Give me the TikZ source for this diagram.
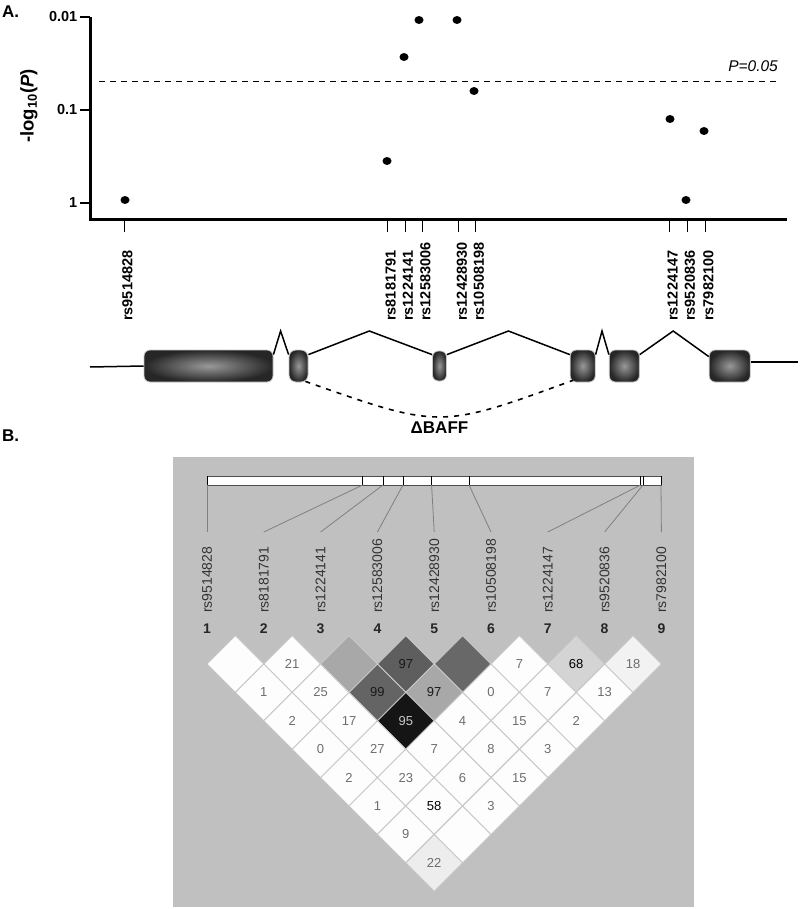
\documentclass[tikz,border=0pt]{standalone}
\usepackage{fontspec}
\setmainfont{Liberation Sans}
\usetikzlibrary{shapes.geometric}
\definecolor{ldbg}{HTML}{C0C0C0}
\definecolor{cellline}{HTML}{C8C8C8}
\definecolor{numgray}{HTML}{6E6E6E}
\definecolor{cwhite}{HTML}{FDFDFD}
\definecolor{cmid}{HTML}{A8A8A8}
\definecolor{cdark}{HTML}{5E5E5E}
\definecolor{cdarkb}{HTML}{686868}
\definecolor{cdarkc}{HTML}{646464}
\definecolor{clight}{HTML}{D4D4D4}
\definecolor{cpale}{HTML}{F2F2F2}
\definecolor{cpaleb}{HTML}{EDEDED}
\definecolor{cblack}{HTML}{151515}
\definecolor{labgray}{HTML}{333333}
\newcommand{\ldcell}[5]{%
  \pgfmathsetmacro{\ldcx}{207+28.4*(#1+#2-2)}%
  \pgfmathsetmacro{\ldcy}{664+28.4*(#2-#1-1)}%
  \filldraw[fill=#3, draw=cellline, line width=0.9pt] (\ldcx,\ldcy-28.4) -- (\ldcx+28.4,\ldcy) -- (\ldcx,\ldcy+28.4) -- (\ldcx-28.4,\ldcy) -- cycle;
  \node[ldnum, text=#5] (c#1#2) at (\ldcx,\ldcy) {#4};
}
\begin{document}
\begin{tikzpicture}[x=1pt,y=-1pt,
  panel/.style={font=\fontsize{17}{17}\selectfont\bfseries, inner sep=0pt},
  axis/.style={line width=3pt},
  ytick/.style={line width=1.5pt},
  xtick/.style={line width=1pt},
  ticklab/.style={font=\fontsize{14.5}{14.5}\selectfont\bfseries, anchor=east, inner sep=0pt},
  dot/.style={ellipse, fill=black, inner sep=0pt, minimum width=9pt, minimum height=8pt},
  pline/.style={line width=1.4pt, dash pattern=on 6pt off 5pt},
  snplab/.style={font=\fontsize{14.5}{14.5}\selectfont\bfseries, rotate=90, anchor=west, inner sep=0pt},
  exon/.style={rounded corners=6pt, inner color=black!40, outer color=black!85, draw=black!22, line width=0.8pt, inner sep=0pt},
  intron/.style={line width=1.5pt},
  dashline/.style={line width=1.6pt, dash pattern=on 5pt off 6pt},
  ldlab/.style={font=\fontsize{14}{14}\selectfont, text=labgray, rotate=90, anchor=west, inner sep=0pt},
  ldidx/.style={font=\fontsize{14}{14}\selectfont\bfseries, text=black!85, inner sep=0pt},
  ldnum/.style={font=\fontsize{13}{13}\selectfont, inner sep=0pt},
  ldconn/.style={draw=black!50, line width=0.8pt},
  bardiv/.style={draw=black, line width=1pt}
]
\useasboundingbox (0,0) rectangle (800,909);
\fill[white] (0,0) rectangle (800,909);

% ---------------- Panel A ----------------
\node[panel, anchor=west] (labA) at (2,12) {A.};
\draw[axis] (90.5,17) -- (90.5,220) -- (787,220);
\foreach \y/\t [count=\k] in {17/0.01, 110/0.1, 203/1}{
  \draw[ytick] (80,\y) -- (90,\y);
  \node[ticklab] (yt\k) at (77.5,\y) {\t};
}
\node[font=\fontsize{18.5}{18.5}\selectfont\bfseries, rotate=90, inner sep=0pt] (ylab) at (29,106) {-log\textsubscript{10}(\textit{P})};
\coordinate (pl0) at (99,81.5);
\coordinate (pl1) at (778,81.5);
\draw[pline] (pl0) -- (pl1);
\node[font=\fontsize{15.5}{15.5}\selectfont\itshape, anchor=east, inner sep=0pt] (plab) at (778,66.5) {P=0.05};

\foreach \i/\x/\n in {1/124.5/rs9514828, 2/387.6/rs8181791, 3/405/rs1224141, 4/422.5/rs12583006, 5/458.8/rs12428930, 6/475.8/rs10508198, 7/669.5/rs1224147, 8/687/rs9520836, 9/705.3/rs7982100}{
  \coordinate (xt\i) at (\x,221.5);
  \coordinate (xb\i) at (\x,232);
  \draw[xtick] (xt\i) -- (xb\i);
  \node[snplab] (s\i) at (\x+3,321) {\n};
}
\foreach \i/\x/\y in {1/125/200, 2/387/161, 3/404/57, 4/419/20, 5/457/20, 6/474/91, 7/670/119, 8/686/200, 9/704/131}{
  \node[dot] (d\i) at (\x,\y) {};
}

% gene structure
\node[exon, minimum width=129pt, minimum height=32pt] (e1) at (208.5,366) {};
\node[exon, minimum width=19pt, minimum height=32pt, rounded corners=7pt] (e2) at (298.5,366) {};
\node[exon, minimum width=14pt, minimum height=30pt, rounded corners=6pt] (e3) at (439.5,366) {};
\node[exon, minimum width=25pt, minimum height=32pt] (e4) at (582.7,366) {};
\node[exon, minimum width=30pt, minimum height=32pt] (e5) at (624.3,366) {};
\node[exon, minimum width=41pt, minimum height=32pt] (e6) at (729.7,366) {};
\coordinate (gl) at (90,367);
\coordinate (gr) at (798,362);
\draw[intron] (gl) -- (e1.west);
\draw[intron] ([yshift=4pt]e6.east) -- (gr);
\coordinate (p1) at (280.6,331);
\coordinate (p2) at (369.3,331);
\coordinate (p3) at (508.4,331);
\coordinate (p4) at (602,331);
\coordinate (p5) at (673.2,331);
\draw[intron] ([yshift=-5pt]e1.north east) -- (p1) -- ([yshift=-5pt]e2.north west);
\draw[intron] ([yshift=-5pt]e2.north east) -- (p2) -- ([yshift=-4pt]e3.north west);
\draw[intron] ([yshift=-4pt]e3.north east) -- (p3) -- ([yshift=-5pt]e4.north west);
\draw[intron] ([yshift=-5pt]e4.north east) -- (p4) -- ([yshift=-5pt]e5.north west);
\draw[intron] ([yshift=-5pt]e5.north east) -- (p5) -- ([yshift=-7pt]e6.north west);
\draw[dashline] ([xshift=-3pt,yshift=1pt]e2.south east) .. controls (440,429) .. ([xshift=3pt,yshift=2pt]e4.south west);
\node[font=\fontsize{17}{17}\selectfont\bfseries, inner sep=0pt] (baff) at (439.5,428) {ΔBAFF};

% ---------------- Panel B ----------------
\node[panel, anchor=west] (labB) at (2,436) {B.};
\fill[ldbg] (173,457) rectangle (694,907);
\draw[fill=white, draw=black!70, line width=1pt] (207,476) rectangle (661,485);
\foreach \i/\x/\b/\n in {1/207/207/rs9514828, 2/263.8/362.7/rs8181791, 3/320.6/383/rs1224141, 4/377.4/403/rs12583006, 5/434.2/431.6/rs12428930, 6/491/469/rs10508198, 7/547.8/640.6/rs1224147, 8/604.6/643/rs9520836, 9/661.4/661/rs7982100}{
  \coordinate (bt\i) at (\b,476);
  \coordinate (bb\i) at (\b,485);
  \coordinate (lt\i) at (\x,532);
  \draw[bardiv] (bt\i) -- (bb\i);
  \draw[ldconn] (bb\i) -- (lt\i);
  \node[ldlab] (ll\i) at (\x,613) {\n};
  \node[ldidx] (li\i) at (\x,629) {\i};
}
% row 1
\ldcell{1}{2}{cwhite}{}{numgray}
\ldcell{2}{3}{cwhite}{21}{numgray}
\ldcell{3}{4}{cmid}{}{numgray}
\ldcell{4}{5}{cdark}{97}{black!90}
\ldcell{5}{6}{cdarkb}{}{numgray}
\ldcell{6}{7}{cwhite}{7}{numgray}
\ldcell{7}{8}{clight}{68}{black}
\ldcell{8}{9}{cpale}{18}{numgray}
% row 2
\ldcell{1}{3}{cwhite}{1}{numgray}
\ldcell{2}{4}{cwhite}{25}{numgray}
\ldcell{3}{5}{cdarkc}{99}{black!90}
\ldcell{4}{6}{cmid}{97}{black!90}
\ldcell{5}{7}{cwhite}{0}{numgray}
\ldcell{6}{8}{cwhite}{7}{numgray}
\ldcell{7}{9}{cwhite}{13}{numgray}
% row 3
\ldcell{1}{4}{cwhite}{2}{numgray}
\ldcell{2}{5}{cwhite}{17}{numgray}
\ldcell{3}{6}{cblack}{95}{black!22}
\ldcell{4}{7}{cwhite}{4}{numgray}
\ldcell{5}{8}{cwhite}{15}{numgray}
\ldcell{6}{9}{cwhite}{2}{numgray}
% row 4
\ldcell{1}{5}{cwhite}{0}{numgray}
\ldcell{2}{6}{cwhite}{27}{numgray}
\ldcell{3}{7}{cwhite}{7}{numgray}
\ldcell{4}{8}{cwhite}{8}{numgray}
\ldcell{5}{9}{cwhite}{3}{numgray}
% row 5
\ldcell{1}{6}{cwhite}{2}{numgray}
\ldcell{2}{7}{cwhite}{23}{numgray}
\ldcell{3}{8}{cwhite}{6}{numgray}
\ldcell{4}{9}{cwhite}{15}{numgray}
% row 6
\ldcell{1}{7}{cwhite}{1}{numgray}
\ldcell{2}{8}{cwhite}{58}{black}
\ldcell{3}{9}{cwhite}{3}{numgray}
% row 7
\ldcell{1}{8}{cwhite}{9}{numgray}
\ldcell{2}{9}{cwhite}{}{numgray}
% row 8
\ldcell{1}{9}{cpaleb}{22}{numgray}
\end{tikzpicture}
\end{document}
